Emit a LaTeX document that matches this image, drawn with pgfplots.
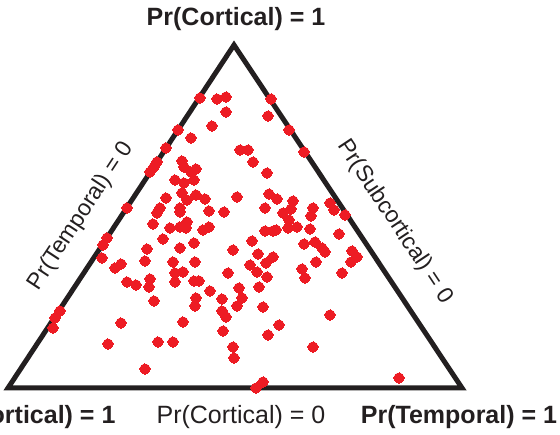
\documentclass[border=0pt]{standalone}
\usepackage{pgfplots}
\pgfplotsset{compat=1.18}
\usepackage{pgfplotstable}
\usepackage{fontspec}
\setmainfont{Liberation Sans}
\definecolor{ink}{HTML}{231F20}
\definecolor{dotred}{HTML}{ED1C24}
\pgfplotstableread{
x y
200 98
217 99
226 97
226 112
271 99
268 116
289 130
304 152
212 126
191 138
178 130
166 148
157 162
154 167
150 172
127 208
240 150
248 150
253 162
267 173
182 161
184 167
196 169
191 172
175 180
184 183
194 180
166 198
182 193
187 200
196 195
205 199
237 197
269 194
277 199
160 208
157 213
180 208
180 212
209 211
224 212
265 208
293 201
291 209
283 213
289 220
330 203
334 210
345 215
313 208
311 216
153 224
170 228
180 227
187 222
186 228
203 230
209 227
265 231
273 231
276 230
288 228
297 227
310 229
339 234
107 238
103 245
102 258
163 239
147 249
180 248
194 243
233 250
252 241
304 244
315 242
322 248
325 252
352 251
357 257
351 262
258 254
273 257
266 263
316 262
250 265
145 261
173 262
195 262
115 268
121 264
175 273
183 272
175 282
150 279
149 287
127 282
136 285
194 281
199 281
228 273
257 272
267 277
302 269
305 278
342 273
210 291
239 288
259 287
154 301
196 298
195 306
222 299
222 311
226 317
242 298
237 306
263 307
330 315
121 323
183 322
279 325
223 331
233 347
234 358
268 335
313 347
108 344
158 342
173 342
145 369
263 382
256 388
399 378
60 311
55 318
53 328
}\pts
\begin{document}
\begin{tikzpicture}
\begin{axis}[
  scale only axis, width=560pt, height=435pt,
  xmin=0, xmax=560, ymin=0, ymax=435, y dir=reverse,
  hide axis, clip=false,
]
\addplot[ink, line width=5pt, line join=miter] coordinates {(8,388) (234,45) (462,388)} -- cycle;
\addplot[only marks, color=dotred, mark=*, mark size=5.2pt, mark options={fill=dotred, draw=dotred, line width=0pt}] table[x=x,y=y] {\pts};
\node[font=\fontsize{25}{30}\selectfont\bfseries, text=ink] at (axis cs:236,19) {Pr(Cortical) = 1};
\node[font=\fontsize{25}{30}\selectfont, text=ink] at (axis cs:241,417) {Pr(Cortical) = 0};
\node[font=\fontsize{25}{30}\selectfont\bfseries, text=ink, anchor=east] at (axis cs:119,417) {Pr(Subcortical) = 1};
\node[font=\fontsize{25}{30}\selectfont\bfseries, text=ink] at (axis cs:459,417) {Pr(Temporal) = 1};
\node[font=\fontsize{23}{28}\selectfont, text=ink, rotate=56.6] at (axis cs:81,216) {Pr(Temporal) = 0};
\node[font=\fontsize{23}{28}\selectfont, text=ink, rotate=-56.4] at (axis cs:395,222) {Pr(Subcortical) = 0};
\end{axis}
\pgfresetboundingbox
\path (current axis.south west) rectangle (current axis.north east);
\end{tikzpicture}
\end{document}
